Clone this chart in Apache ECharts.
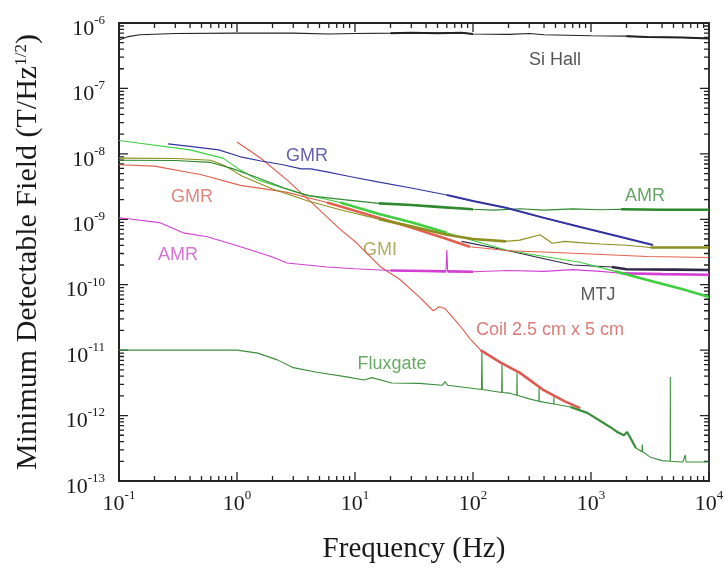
<!DOCTYPE html>
<html>
<head>
<meta charset="utf-8">
<script src="https://cdn.jsdelivr.net/npm/echarts@6/dist/echarts.min.js"></script>
<style>
  html, body { margin: 0; padding: 0; background: #fff; }
  #chart { width: 728px; height: 569px; }
</style>
</head>
<body>
<div id="chart"></div>
<script>
// [frequency Hz, field T/Hz^1/2]
var siHall = [[0.1,5.5e-7],[0.12,6.2e-7],[0.15,6.6e-7],[0.3,6.9e-7],[1,7.0e-7],[3,7.0e-7],[6,6.8e-7],[10,6.9e-7],[20,7.0e-7],[30,7.1e-7],[50,7.0e-7],[80,7.1e-7],[100,6.8e-7],[200,6.7e-7],[300,6.9e-7],[400,6.6e-7],[1000,6.4e-7],[2000,6.3e-7],[3000,6.1e-7],[6000,6.0e-7],[10000,5.8e-7]]
var gmrBlue = [[0.26,1.42e-8],[0.4,1.3e-8],[0.7,1.15e-8],[1.07,9.0e-9],[1.6,7.8e-9],[2.45,6.8e-9],[3.5,5.9e-9],[4.2,5.9e-9],[5.8,5.3e-9],[9,4.5e-9],[16,3.7e-9],[30,3.0e-9],[60,2.35e-9],[100,1.9e-9],[190,1.5e-9],[400,1.05e-9],[810,7.6e-10],[1500,5.8e-10],[3350,4.05e-10]]
var amrGreen = [[0.1,8.0e-9],[0.3,7.9e-9],[0.6,7.4e-9],[0.9,6.0e-9],[1.5,4.3e-9],[2.5,3.0e-9],[4,2.3e-9],[8,2.0e-9],[16,1.75e-9],[30,1.65e-9],[50,1.55e-9],[100,1.42e-9],[150,1.38e-9],[250,1.45e-9],[400,1.38e-9],[700,1.44e-9],[1200,1.4e-9],[1800,1.42e-9],[4000,1.4e-9],[10000,1.4e-9]]
var gmrRed = [[0.1,6.8e-9],[0.2,6.5e-9],[0.5,4.8e-9],[1.07,3.3e-9],[2.6,2.6e-9],[5.8,1.8e-9],[10,1.35e-9],[16,1.05e-9],[30,7.5e-10],[60,5.0e-10],[94,3.8e-10],[200,3.3e-10],[500,3.1e-10],[800,3.0e-10],[3000,2.7e-10],[10000,2.6e-10]]
var gmiOlive = [[0.1,8.6e-9],[0.3,8.5e-9],[0.6,8.0e-9],[0.8,6.5e-9],[1.1,4.6e-9],[2,2.9e-9],[4,1.9e-9],[7.5,1.4e-9],[16,1.0e-9],[30,7.8e-10],[60,5.8e-10],[100,5.0e-10],[190,4.6e-10],[250,4.8e-10],[370,5.8e-10],[470,4.3e-10],[600,4.6e-10],[800,4.4e-10],[1200,4.2e-10],[2000,4.0e-10],[3200,3.7e-10],[10000,3.7e-10]]
var mtjGreen = [[0.1,1.6e-8],[0.15,1.45e-8],[0.4,1.15e-8],[0.76,8.6e-9],[1.06,5.7e-9],[1.5,4.0e-9],[3.4,2.5e-9],[7.5,1.8e-9],[16,1.2e-9],[30,9.0e-10],[60,6.2e-10],[190,3.4e-10],[400,2.7e-10],[810,2.2e-10],[1600,1.6e-10],[3000,1.18e-10],[6000,8.5e-11],[10000,6.5e-11]]
var mtjDark = [[80,4.6e-10],[200,3.3e-10],[400,2.5e-10],[700,2.0e-10],[1500,1.87e-10],[2000,1.72e-10],[5000,1.7e-10],[10000,1.68e-10]]
var amrMagenta = [[0.1,1.05e-9],[0.12,1.02e-9],[0.22,8.9e-10],[0.35,6.2e-10],[0.56,5.4e-10],[1.07,3.8e-10],[2.0,2.65e-10],[2.65,2.15e-10],[5.8,1.87e-10],[10,1.75e-10],[20,1.65e-10],[40,1.62e-10],[59,1.6e-10],[60,3.4e-10],[61,1.6e-10],[100,1.58e-10],[200,1.65e-10],[400,1.6e-10],[700,1.7e-10],[1200,1.6e-10],[1800,1.5e-10],[4000,1.45e-10],[10000,1.42e-10]]
var coil = [[1.0,1.52e-8],[1.6,8.5e-9],[2.65,4.0e-9],[5.0,1.39e-9],[7.5,7.0e-10],[10.4,4.3e-10],[16.3,1.9e-10],[24,1.2e-10],[35,6.5e-11],[46,4.0e-11],[52,4.6e-11],[58,4.3e-11],[67,3.2e-11],[80,2.2e-11],[94,1.5e-11],[116,1.0e-11],[170,6.5e-12],[250,4.5e-12],[390,2.5e-12],[600,1.65e-12],[810,1.3e-12]]
var fluxgate = [[0.1,1.0e-11],[1.0,1.0e-11],[1.5,9.0e-12],[2.2,7.1e-12],[3.0,5.4e-12],[4.75,4.6e-12],[8.5,3.9e-12],[11.9,3.5e-12],[13.9,3.8e-12],[20.5,3.15e-12],[35,3.1e-12],[55,2.9e-12],[58,3.3e-12],[61,2.9e-12],[118,2.5e-12],[119,9.4e-12],[120,2.5e-12],[150,2.35e-12],[175,2.25e-12],[176,6.6e-12],[177,2.25e-12],[205,2.2e-12],[235,2.05e-12],[236,4.5e-12],[237,2.05e-12],[300,1.8e-12],[362,1.65e-12],[363,2.7e-12],[364,1.65e-12],[484,1.5e-12],[485,2.06e-12],[486,1.5e-12],[670,1.35e-12],[930,1.1e-12],[1450,6.7e-13],[1700,5.5e-13],[1900,5.0e-13],[2020,5.6e-13],[2150,4.6e-13],[2400,3.2e-13],[2700,2.8e-13],[2720,3.6e-13],[2740,2.8e-13],[3200,2.3e-13],[4000,2.05e-13],[4690,2.0e-13],[4700,3.9e-12],[4710,2.0e-13],[6000,1.95e-13],[6300,2.5e-13],[6400,1.95e-13],[10000,1.95e-13]]

// in-plot labels: text, frequency, field
var labelNames = ['Si Hall', 'GMR', 'GMR', 'AMR', 'GMI', 'AMR', 'MTJ', 'Coil 2.5 cm x 5 cm', 'Fluxgate']
var labelF = [495, 3.92, 0.416, 0.316, 16.3, 2870, 1146, 450, 20.6]
var labelB = [2.72e-7, 9.3e-9, 2.19e-9, 2.85e-10, 3.4e-10, 2.27e-9, 7.0e-11, 2.03e-11, 6.1e-12]
var labelColors = ['#2a2a2a', '#3b3b9c', '#d8665c', '#cf4fcf', '#9a9a3c', '#3f8f3f', '#333333', '#d25a52', '#3f963f']

var X_MIN = 0.1, X_MAX = 1e4, Y_MIN = 1e-13, Y_MAX = 1e-6
var serif = 'Liberation Serif'
var sans = 'Liberation Sans'

var curves = [
  { data: siHall, color: '#222222', thick: [[15, 100], [1800, 10000]], w: 2 },
  { data: fluxgate, color: '#3c8f3c', thick: [[500, 2600]], w: 2.2 },
  { data: coil, color: '#df5a4e', thick: [[116, 810]], w: 2.6 },
  { data: amrMagenta, color: '#d23fd2', thick: [[16, 59], [61, 100], [1800, 10000]], w: 2.6 },
  { data: mtjDark, color: '#2f2745', thick: [[1500, 10000]], w: 2.6 },
  { data: mtjGreen, color: '#3fcf3f', thick: [[5, 60], [1600, 10000]], w: 2.6 },
  { data: gmrRed, color: '#e0624e', thick: [[5, 94]], w: 2.6 },
  { data: gmiOlive, color: '#8e8e1e', thick: [[10, 190], [3200, 10000]], w: 2.6 },
  { data: amrGreen, color: '#2f8a2f', thick: [[16, 100], [1800, 10000]], w: 2.6 },
  { data: gmrBlue, color: '#3434a2', thick: [[60, 3350]], w: 2 }
]

function segment(data, lo, hi) {
  return data.filter(function (p) { return p[0] >= lo && p[0] <= hi })
}

function expLabel(v) {
  var e = Math.round(Math.log10(v))
  return '{b|10}{s|' + e + '}'
}

var labelRich = {
  b: { fontFamily: serif, fontSize: 22, color: '#1a1a1a', padding: [4, 0, 0, 0] },
  s: { fontFamily: serif, fontSize: 13, color: '#1a1a1a', verticalAlign: 'top' }
}

var series = []

// frame ticks: each one its own two-point line, on all four sides
var PX_PER_DEC_X = 118, PX_PER_DEC_Y = 65.4
function fx(px) { return Math.pow(10, px / PX_PER_DEC_X) }
function fy(px) { return Math.pow(10, px / PX_PER_DEC_Y) }
function tickSeries(pts) {
  series.push({
    type: 'line', data: pts, showSymbol: false, silent: true,
    lineStyle: { color: '#222', width: 1.3 }
  })
}
function addX(v, len) {
  tickSeries([[v, Y_MIN], [v, Y_MIN * fy(len)]])
  tickSeries([[v, Y_MAX], [v, Y_MAX / fy(len)]])
}
function addY(v, len) {
  tickSeries([[X_MIN, v], [X_MIN * fx(len), v]])
  tickSeries([[X_MAX / fx(len), v], [X_MAX, v]])
}
for (var d = -1; d <= 4; d++) {
  addX(Math.pow(10, d), 9)
  if (d < 4) for (var k = 2; k <= 9; k++) addX(k * Math.pow(10, d), 5)
}
for (var e = -13; e <= -6; e++) {
  addY(Math.pow(10, e), 9)
  if (e < -6) for (var k2 = 2; k2 <= 9; k2++) addY(k2 * Math.pow(10, e), 5)
}

curves.forEach(function (c) {
  series.push({
    type: 'line', data: c.data, showSymbol: false, silent: true,
    lineStyle: { color: c.color, width: 1.1 }
  })
  c.thick.forEach(function (r) {
    series.push({
      type: 'line', data: segment(c.data, r[0], r[1]), showSymbol: false, silent: true,
      lineStyle: { color: c.color, width: c.w }
    })
  })
})

series.push({
  type: 'scatter', symbolSize: 0, silent: true,
  data: labelNames.map(function (n, i) {
    return {
      value: [labelF[i], labelB[i]], name: n,
      label: { color: labelColors[i] }
    }
  }),
  label: {
    show: true, position: 'inside', formatter: '{b}',
    fontFamily: sans, fontSize: 18
  }
})

var chart = echarts.init(document.getElementById('chart'))
chart.setOption({
  animation: false,
  grid: { left: 119, right: 19, top: 23, bottom: 88, show: true, borderColor: '#222', borderWidth: 1.8, backgroundColor: 'transparent' },
  xAxis: {
    type: 'log', min: X_MIN, max: X_MAX,
    name: 'Frequency (Hz)', nameLocation: 'middle', nameGap: 54,
    nameTextStyle: { fontFamily: serif, fontSize: 29, color: '#1a1a1a' },
    axisLine: { show: true, lineStyle: { color: '#222', width: 1.8 } },
    axisTick: { show: false },
    splitLine: { show: false },
    axisLabel: { formatter: expLabel, rich: labelRich, margin: 8 }
  },
  yAxis: {
    type: 'log', min: Y_MIN, max: Y_MAX, splitNumber: 7,
    name: '{a|Minimum Detectable Field (T/Hz}{s|1/2}{a|)}',
    nameLocation: 'middle', nameGap: 76, nameRotate: 90,
    nameTextStyle: {
      rich: {
        a: { fontFamily: serif, fontSize: 30, color: '#1a1a1a' },
        s: { fontFamily: serif, fontSize: 17, color: '#1a1a1a', verticalAlign: 'top' }
      }
    },
    axisLine: { show: true, lineStyle: { color: '#222', width: 1.8 } },
    axisTick: { show: false },
    splitLine: { show: false },
    axisLabel: { formatter: expLabel, rich: labelRich, margin: 14, padding: [8, 0, 0, 0] }
  },
  series: series
})
</script>
</body>
</html>
